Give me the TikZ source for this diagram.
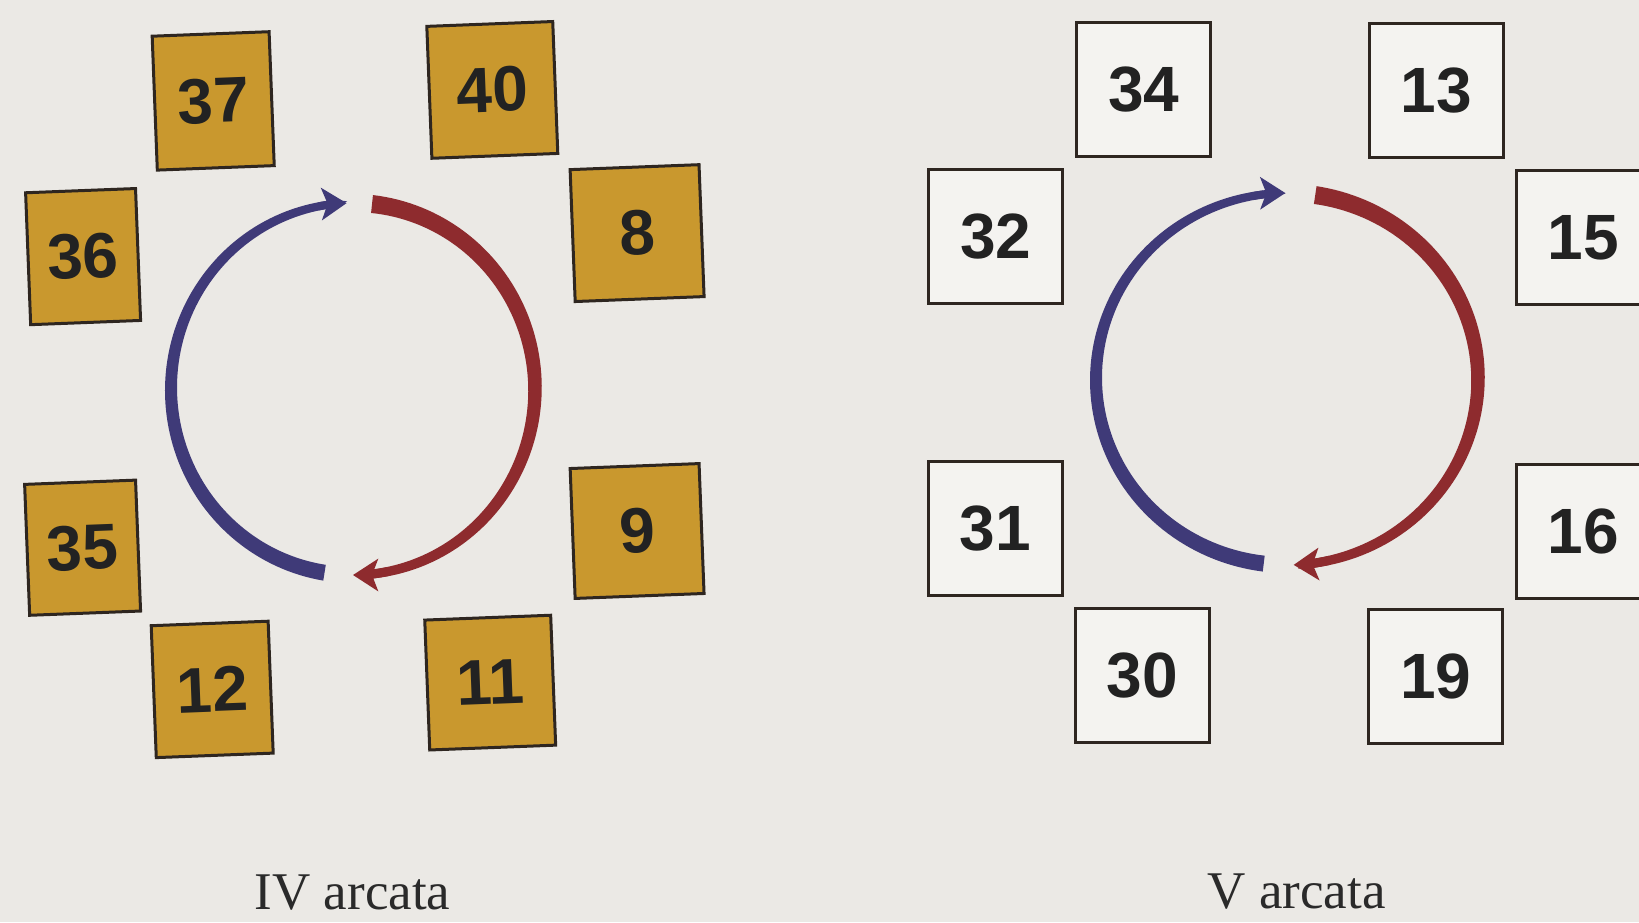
\documentclass[tikz,border=0pt]{standalone}
\usepackage{fontspec}
\setmainfont{Liberation Serif}
\newfontfamily\numfont{Liberation Sans}
\usetikzlibrary{arrows.meta}
\definecolor{bgpaper}{HTML}{EBE9E5}
\definecolor{gold}{HTML}{C9982E}
\definecolor{boxline}{HTML}{2E2620}
\definecolor{whitefill}{HTML}{F4F3F0}
\definecolor{arcblue}{HTML}{3F3A78}
\definecolor{arcred}{HTML}{8E2B2E}
\definecolor{numtext}{HTML}{222222}
\definecolor{labeltext}{HTML}{2A2A2A}
% tapered arc: cx cy rx ry a1 a2 w1 w2 colour
\newcommand\mytaper[9]{%
  \fill[#9] plot[domain=#5:#6, samples=90, variable=\t]
    ({#1+(#3+(#7+(#8-#7)*(\t-(#5))/((#6)-(#5)))/2)*cos(\t)},
     {#2+(#4+(#7+(#8-#7)*(\t-(#5))/((#6)-(#5)))/2)*sin(\t)})
    -- plot[domain=#6:#5, samples=90, variable=\t]
    ({#1+(#3-(#7+(#8-#7)*(\t-(#5))/((#6)-(#5)))/2)*cos(\t)},
     {#2+(#4-(#7+(#8-#7)*(\t-(#5))/((#6)-(#5)))/2)*sin(\t)})
    -- cycle;}
\tikzset{
  numbox/.style={draw=boxline, line width=3pt, inner sep=0pt, text=numtext,
    font=\numfont\bfseries\fontsize{64}{64}\selectfont},
  goldbox/.style={numbox, fill=gold, rotate=2.2},
  whitebox/.style={numbox, fill=whitefill, minimum width=134, minimum height=134},
  bluehead/.style={draw=arcblue, line width=8pt, -{Stealth[length=25pt, width=32pt, inset=6pt]}},
  redhead/.style={draw=arcred, line width=9pt, -{Stealth[length=25pt, width=32pt, inset=6pt]}},
  arclabel/.style={font=\fontsize{53}{60}\selectfont, text=labeltext, anchor=base}
}
\begin{document}
\begin{tikzpicture}[x=1pt,y=-1pt]
\fill[bgpaper] (0,0) rectangle (1639,922);
\useasboundingbox (0,0) rectangle (1639,922);
\clip (0,0) rectangle (1639,922);

% ---------- IV arcata ----------
\coordinate (cL) at (353,389);
\node[goldbox, minimum width=117, minimum height=134] (b37) at (213.2,100.9) {37};
\node[goldbox, minimum width=126, minimum height=132] (b40) at (492.3,89.9) {40};
\node[goldbox, minimum width=110, minimum height=132] (b36) at (83.1,256.6) {36};
\node[goldbox, minimum width=129, minimum height=132] (b8) at (637.1,233.1) {8};
\node[goldbox, minimum width=111, minimum height=131] (b35) at (82.6,547.7) {35};
\node[goldbox, minimum width=129, minimum height=130] (b9) at (637.1,531.0) {9};
\node[goldbox, minimum width=117, minimum height=132] (b12) at (212.2,689.4) {12};
\node[goldbox, minimum width=126, minimum height=130] (b11) at (490.2,682.6) {11};

\mytaper{353}{389}{182}{186}{-261}{-98}{16}{8}{arcblue}
\draw[bluehead] ([shift={({182*cos(-101)},{186*sin(-101)})}]cL) arc[start angle=-101, end angle=-92, x radius=182, y radius=186];
\mytaper{353}{389}{182}{186}{-84}{84}{18}{9}{arcred}
\draw[redhead] ([shift={({182*cos(79)},{186*sin(79)})}]cL) arc[start angle=79, end angle=90, x radius=182, y radius=186];

\node[arclabel] (lblIV) at (352.5,909) {IV arcata};

% ---------- V arcata ----------
\coordinate (cR) at (1287,379);
\node[whitebox] (b34) at (1143.6,89.9) {34};
\node[whitebox] (b13) at (1436.2,90.4) {13};
\node[whitebox] (b32) at (995.6,236.2) {32};
\node[whitebox] (b15) at (1583,237.8) {15};
\node[whitebox] (b31) at (995.1,528.9) {31};
\node[whitebox] (b16) at (1583,531) {16};
\node[whitebox] (b30) at (1142,675.3) {30};
\node[whitebox] (b19) at (1435.7,676.3) {19};

\mytaper{1287}{379}{191}{186}{-263}{-97}{16}{8}{arcblue}
\draw[bluehead] ([shift={({191*cos(-100)},{186*sin(-100)})}]cR) arc[start angle=-100, end angle=-90.5, x radius=191, y radius=186];
\mytaper{1287}{379}{191}{186}{-81.5}{82}{18}{9}{arcred}
\draw[redhead] ([shift={({191*cos(77)},{186*sin(77)})}]cR) arc[start angle=77, end angle=88, x radius=191, y radius=186];

\node[arclabel] (lblV) at (1296.5,908) {V arcata};
\end{tikzpicture}
\end{document}
